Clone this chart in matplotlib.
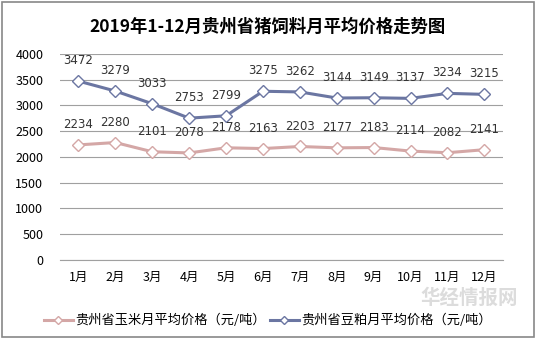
import matplotlib.pyplot as plt
from matplotlib.patches import Rectangle

plt.rcParams['font.family'] = ['Noto Sans CJK SC', 'DejaVu Sans']

months = ["1月", "2月", "3月", "4月", "5月", "6月", "7月", "8月", "9月", "10月", "11月", "12月"]
corn = [2234, 2280, 2101, 2078, 2178, 2163, 2203, 2177, 2183, 2114, 2082, 2141]
soy = [3472, 3279, 3033, 2753, 2799, 3275, 3262, 3144, 3149, 3137, 3234, 3215]
corn_name = "贵州省玉米月平均价格（元/吨）"
soy_name = "贵州省豆粕月平均价格（元/吨）"
title = "2019年1-12月贵州省猪饲料月平均价格走势图"

corn_color = "#D4A7A6"
soy_color = "#6B76A2"

fig = plt.figure(figsize=(5.36, 3.39), dpi=100)
ax = fig.add_axes([0.112, 0.233, 0.826, 0.608])

x = list(range(len(months)))
ax.plot(x, corn, color=corn_color, lw=2.2, marker="D", ms=6,
        mfc="white", mec=corn_color, mew=1, label=corn_name)
ax.plot(x, soy, color=soy_color, lw=2.2, marker="D", ms=6,
        mfc="white", mec=soy_color, mew=1, label=soy_name)

for i in x:
    ax.annotate(str(corn[i]), (i, corn[i]), xytext=(0, 10), textcoords="offset points",
                ha="center", va="bottom", fontsize=8.5, color="#333333", family="DejaVu Sans")
    ax.annotate(str(soy[i]), (i, soy[i]), xytext=(0, 10), textcoords="offset points",
                ha="center", va="bottom", fontsize=8.5, color="#333333", family="DejaVu Sans")

ax.set_xlim(-0.5, 11.5)
ax.set_ylim(0, 4000)
ax.set_yticks(range(0, 4001, 500))
ax.set_xticks(x)
ax.set_xticklabels(months, fontsize=9)
ax.tick_params(axis="y", labelsize=9, length=0, pad=12)
ax.tick_params(axis="x", length=0, pad=8)
ax.grid(axis="y", color="#A0A0A0", lw=0.8)
ax.set_axisbelow(True)
for s in ["top", "right", "left"]:
    ax.spines[s].set_visible(False)
ax.spines["bottom"].set_color("#A0A0A0")

fig.text(0.5, 0.92, title, ha="center", va="center", fontsize=12.5, fontweight="bold")

fig.legend(loc="lower center", bbox_to_anchor=(0.5, 0.0), ncol=2, frameon=False,
           fontsize=9.5, handlelength=2.2, columnspacing=0.3, handletextpad=0.2,
           markerscale=0.75)

# faint watermark
fig.text(0.875, 0.122, "华经情报网", ha="center", va="center", fontsize=14,
         color="#DCDCDC", fontweight="bold", zorder=0)

fig.patches.append(Rectangle((0.004, 0.006), 0.992, 0.988, transform=fig.transFigure,
                             fill=False, edgecolor="#888888", lw=1.2))

fig.savefig("out.png", dpi=100)
